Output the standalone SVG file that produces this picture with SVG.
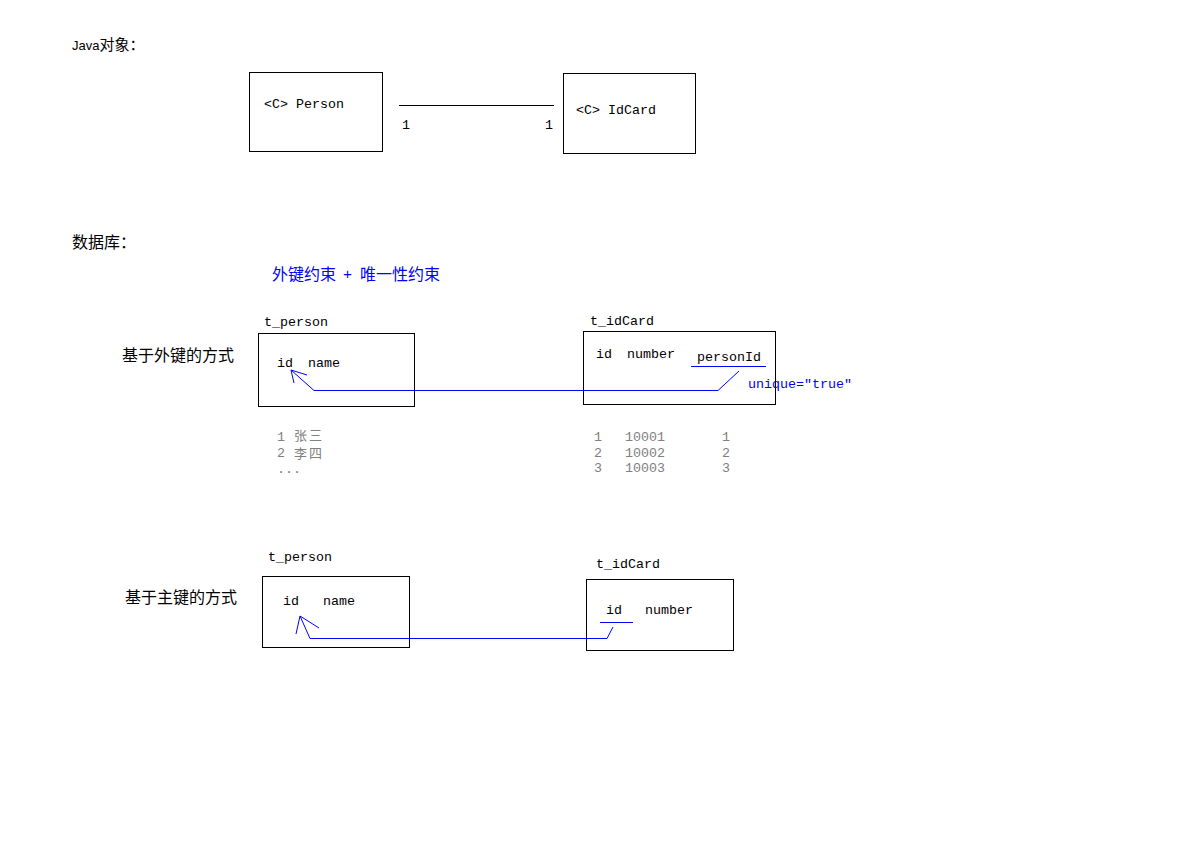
<svg xmlns="http://www.w3.org/2000/svg" width="1198" height="848" viewBox="0 0 1198 848" xml:space="preserve">
<style>
.box{fill:#fff;stroke:#000;stroke-width:1}
.m{font-family:"Liberation Mono","DejaVu Sans Mono",monospace;font-size:13.33px;fill:#000;white-space:pre}
.c{font-family:"Noto Sans CJK SC","Noto Sans",sans-serif;font-size:16px;fill:#000}
.g{font-family:"Noto Sans CJK SC","Noto Sans",sans-serif;font-size:13px;fill:#808080;letter-spacing:2px}
.blue{fill:#0000ff}
.gray{fill:#808080}
.bl{fill:none;stroke:#0000ff;stroke-width:1}
.k{fill:none;stroke:#000;stroke-width:1}
</style>
<rect width="1198" height="848" fill="#fff"/>
<g id="title-java">
<text x="72" y="50" style="font-family:'Liberation Sans',sans-serif;font-size:13px">Java<tspan style="font-family:'Noto Sans CJK SC',sans-serif;font-size:15px">对象：</tspan></text>
</g>
<g id="person-class">
<rect class="box" x="249.5" y="72.5" width="133" height="79"/>
<text class="m" x="264" y="108">&lt;C&gt; Person</text>
</g>
<g id="idcard-class">
<rect class="box" x="563.5" y="73.5" width="132" height="80"/>
<text class="m" x="576" y="114">&lt;C&gt; IdCard</text>
</g>
<g id="title-db">
<text class="c" x="72" y="248">数据库：</text>
<text class="c blue" x="272" y="280">外键约束</text>
<text class="m blue" x="343" y="279" style="font-size:15px">+</text>
<text class="c blue" x="360" y="280">唯一性约束</text>
</g>
<g id="fk-label">
<text class="c" x="122" y="361">基于外键的方式</text>
</g>
<g id="fk-t-person">
<text class="m" x="264" y="326">t_person</text>
<rect class="box" x="258.5" y="333.5" width="156" height="73"/>
<text class="m" x="277" y="367">id</text>
<text class="m" x="308" y="367">name</text>
</g>
<g id="fk-person-data">
<text class="m gray" x="277" y="441">1</text>
<text class="g" x="294" y="439.5">张三</text>
<text class="m gray" x="277" y="457">2</text>
<text class="g" x="294" y="458">李四</text>
<text class="m gray" x="277" y="473">...</text>
</g>
<g id="fk-t-idcard">
<text class="m" x="590" y="325">t_idCard</text>
<rect class="box" x="583.5" y="331.5" width="192" height="73"/>
<text class="m" x="596" y="358">id</text>
<text class="m" x="627" y="358">number</text>
<text class="m" x="697" y="361">personId</text>
<text class="m blue" x="748" y="388">unique="true"</text>
</g>
<g id="fk-idcard-data">
<text class="m gray" x="594" y="441">1</text><text class="m gray" x="625" y="441">10001</text><text class="m gray" x="722" y="441">1</text>
<text class="m gray" x="594" y="457">2</text><text class="m gray" x="625" y="457">10002</text><text class="m gray" x="722" y="457">2</text>
<text class="m gray" x="594" y="472">3</text><text class="m gray" x="625" y="472">10003</text><text class="m gray" x="722" y="472">3</text>
</g>
<g id="pk-label">
<text class="c" x="125" y="603">基于主键的方式</text>
</g>
<g id="pk-t-person">
<text class="m" x="268" y="561">t_person</text>
<rect class="box" x="262.5" y="576.5" width="147" height="71"/>
<text class="m" x="283" y="605">id</text>
<text class="m" x="323" y="605">name</text>
</g>
<g id="pk-t-idcard">
<text class="m" x="596" y="568">t_idCard</text>
<rect class="box" x="586.5" y="579.5" width="147" height="71"/>
<text class="m" x="606" y="614">id</text>
<text class="m" x="645" y="614">number</text>
</g>
<g id="connectors">
<line class="k" x1="399" y1="105.5" x2="554" y2="105.5"/>
<text class="m" x="402" y="129">1</text>
<text class="m" x="545" y="129">1</text>
<line class="bl" x1="691" y1="366.5" x2="766" y2="366.5"/>
<polyline class="bl" points="739,371 718,390.5 314,390.5 291,370"/>
<polyline class="bl" points="307,375 291,370 294,383"/>
<line class="bl" x1="600" y1="622.5" x2="633" y2="622.5"/>
<polyline class="bl" points="613,627 607,638.5 310,638.5 300,616"/>
<polyline class="bl" points="319,628 300,616 296,634"/>
</g>
</svg>
